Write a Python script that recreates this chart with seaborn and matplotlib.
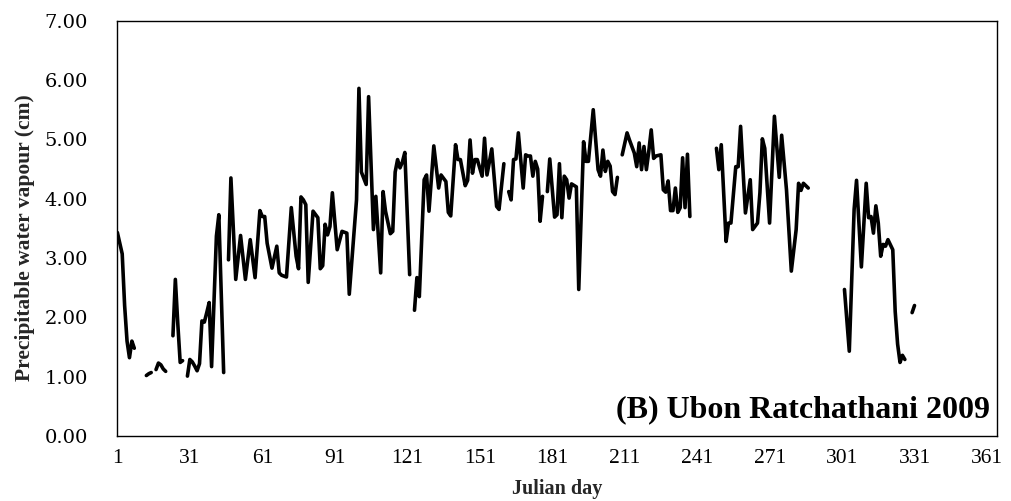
import numpy as np
import pandas as pd
import matplotlib
matplotlib.use("Agg")
import matplotlib.pyplot as plt
import seaborn as sns

nan = np.nan

# Julian day (NaN rows mark missing days -> gaps in the line)
julian_day = [
    1, 2, 3, 4, 5, 6, 7, 8, 9,
    13, 14, 15, 16,
    17, 18, 19, 20, 21, 22,
    24, 25, 26, 27, 28, 29,
    30, 31, 32, 33, 34, 35, 36, 37, 38, 39, 40, 42, 43, 45, 46,
    47, 48, 50, 52, 54, 56, 58, 60, 61, 62, 63, 65, 67, 68, 69, 71, 73, 75, 76,
    77, 78, 79, 80, 82, 84, 85, 86, 87, 88, 89, 90, 92, 94, 96, 97, 100, 101,
    102, 104, 105, 107, 108, 110, 111, 112, 114, 115, 116, 117, 118, 119, 120, 122, 123,
    124, 125, 126, 128, 129, 130, 132, 134, 135, 137, 138, 139, 141, 142, 143, 145,
    146, 147, 148, 149, 150, 152, 153, 154, 156, 158, 159, 161, 162,
    163, 164, 165, 166, 167, 169, 170, 171, 172, 173, 174, 175, 176, 177, 178,
    179, 180, 182, 183, 184, 185, 186, 187, 188, 189, 191, 192, 194, 195, 196, 198,
    200, 201, 202, 203, 204, 205, 206, 207, 208, 209,
    210, 212, 213, 215, 216, 217, 218, 219, 220, 221, 222, 223, 224, 226, 227, 228,
    229, 230, 231, 232, 233, 234, 235, 236, 237, 238, 239,
    249, 250, 251, 253, 254, 255, 257, 258, 259, 261, 263, 264, 266, 267, 268, 269,
    271, 273, 275, 276, 278, 280, 282, 283, 284, 285, 287, 288,
    302, 304, 306, 307, 309, 311, 312, 313, 314, 315, 316, 317, 318, 319, 320, 322,
    323, 324, 325, 326, 327, 328,
    330, 331,
]

# Precipitable water vapour (cm)
pwv_cm = [
    3.43, 3.25, 3.07, 2.20, 1.60, 1.32, 1.60, 1.48, nan,
    1.02, 1.05, 1.07, nan,
    1.12, 1.23, 1.20, 1.13, 1.09, nan,
    1.69, 2.64, 1.90, 1.24, 1.27, nan,
    1.01, 1.29, 1.25, 1.18, 1.10, 1.22, 1.94, 1.92, 2.08, 2.25, 1.17, 3.37, 3.73, 1.07, nan,
    2.97, 4.35, 2.64, 3.38, 2.64, 3.31, 2.67, 3.80, 3.70, 3.70, 3.25, 2.83, 3.20, 2.75, 2.71, 2.68, 3.85, 3.03, 2.82,
    4.03, 3.98, 3.90, 2.59, 3.79, 3.68, 2.82, 2.87, 3.57, 3.39, 3.53, 4.10, 3.14, 3.45, 3.42, 2.39, 3.98, 5.86,
    4.45, 4.24, 5.72, 3.48, 4.04, 2.75, 4.12, 3.79, 3.41, 3.45, 4.45, 4.66, 4.52, 4.62, 4.78, 2.72, nan,
    2.12, 2.67, 2.35, 4.32, 4.40, 3.79, 4.89, 4.18, 4.40, 4.29, 3.77, 3.71, 4.91, 4.66, 4.66, 4.22,
    4.31, 4.99, 4.43, 4.66, 4.66, 4.38, 5.02, 4.40, 4.84, 3.87, 3.82, 4.59, nan,
    4.12, 3.98, 4.66, 4.67, 5.11, 4.18, 4.74, 4.72, 4.72, 4.38, 4.63, 4.50, 3.62, 4.04, nan,
    4.12, 4.67, 3.69, 3.73, 4.59, 3.68, 4.38, 4.32, 4.01, 4.25, 4.20, 2.47, 4.96, 4.63, 4.63, 5.50,
    4.49, 4.38, 4.82, 4.46, 4.63, 4.55, 4.12, 4.07, 4.36, nan,
    4.74, 5.11, 4.99, 4.77, 4.54, 4.94, 4.49, 4.88, 4.49, 4.80, 5.16, 4.68, 4.72, 4.74, 4.15, 4.11,
    4.30, 3.80, 3.80, 4.18, 3.77, 3.85, 4.69, 3.85, 4.75, 3.70, nan,
    4.85, 4.49, 4.91, 3.28, 3.59, 3.59, 4.54, 4.54, 5.22, 3.76, 4.32, 3.48, 3.59, 4.10, 5.01, 4.85,
    3.59, 5.39, 4.36, 5.07, 4.15, 2.78, 3.48, 4.26, 4.14, 4.26, 4.18, nan,
    2.47, 1.43, 3.82, 4.31, 2.85, 4.26, 3.68, 3.70, 3.42, 3.88, 3.59, 3.03, 3.23, 3.20, 3.31, 3.14,
    2.10, 1.55, 1.24, 1.36, 1.29, nan,
    2.08, 2.20,
]

x_ticks = [1, 31, 61, 91, 121, 151, 181, 211, 241, 271, 301, 331, 361]
y_ticks = [0, 1, 2, 3, 4, 5, 6, 7]
station_label = "(B) Ubon Ratchathani 2009"
x_title = "Julian day"
y_title = "Precipitable water vapour (cm)"

df = pd.DataFrame({"day": julian_day, "pwv": pwv_cm})
df["segment"] = df["pwv"].isna().cumsum()
df = df.dropna().reset_index(drop=True)

sns.set_style("white")
plt.rcParams["font.family"] = ["Liberation Serif", "DejaVu Serif"]

fig = plt.figure(figsize=(10.11, 5.01), dpi=100)
ax = fig.add_axes([0.1161, 0.1297, 0.8697, 0.8289])

sns.lineplot(data=df, x="day", y="pwv", units="segment", estimator=None,
             sort=False, color="black", linewidth=2.6, ax=ax, legend=False,
             solid_joinstyle="round", solid_capstyle="round")

ax.set_xlim(1, 365)
ax.set_ylim(0, 7)
ax.set_xticks(x_ticks)
ax.set_yticks(y_ticks)
ax.set_yticklabels([f"{v:.2f}" for v in y_ticks], fontfamily="DejaVu Serif", fontsize=14)
ax.set_xticklabels([str(v) for v in x_ticks], fontsize=15.5)

for s in ax.spines.values():
    s.set_visible(True)
    s.set_color("black")
    s.set_linewidth(1.0)

ax.tick_params(axis="x", direction="out", length=6, width=1, pad=3.5, colors="black")
ax.tick_params(axis="y", direction="in", length=7, width=1, pad=21, colors="black")

ax.set_xlabel(x_title, fontsize=14.5, fontweight="bold")
ax.set_ylabel(y_title, fontsize=15.5, fontweight="bold")
ax.xaxis.set_label_coords(0.5, -0.103)
ax.yaxis.set_label_coords(-0.094, 0.478)

ax.text(0.992, 0.046, station_label, transform=ax.transAxes, ha="right",
        va="baseline", fontsize=23, fontweight="bold", color="black")

fig.savefig("out.png", dpi=100, facecolor="white")
